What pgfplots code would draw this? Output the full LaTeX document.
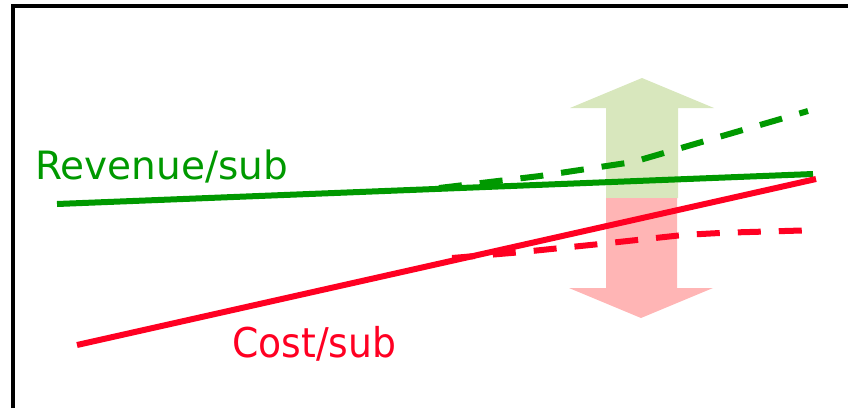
\documentclass[border=0pt]{standalone}
\usepackage{pgfplots}
\pgfplotsset{compat=1.18}
\usepackage{fontspec}
\setmainfont{DejaVu Sans}
\definecolor{cgreen}{HTML}{009900}
\definecolor{cred}{HTML}{FF0022}
\definecolor{agreen}{HTML}{D8E7BD}
\definecolor{ared}{HTML}{FFB5B5}
\begin{document}
\begin{tikzpicture}
\begin{axis}[
  scale only axis, width=848pt, height=408pt,
  xmin=0, xmax=848, ymin=0, ymax=408, y dir=reverse,
  hide axis, clip=false]
% arrows (area shapes)
\addplot[draw=none, fill=agreen] coordinates {(606,198) (606,108) (570,108) (642,78) (714,108) (678,108) (678,198)} -- cycle;
\addplot[draw=none, fill=ared] coordinates {(606,198) (606,288) (569,288) (641,318) (713,288) (677,288) (677,198)} -- cycle;
% frame
\addplot[black, line width=4pt] coordinates {(13,408) (13,6) (848,6)};
% revenue
\addplot[cgreen, line width=6pt] coordinates {(57,204) (813,174)};
\addplot[cgreen, line width=6pt, dash pattern=on 23pt off 18pt] coordinates {(439,188) (540,176) (633,162) (808,111)};
% cost
\addplot[cred, line width=6pt] coordinates {(77,345) (816,179)};
\addplot[cred, line width=6pt, dash pattern=on 23pt off 18pt] coordinates {(452,258) (517,252.5) (600,244) (683,235) (725,232.7) (809,230.3)};
\node[anchor=base west, inner sep=0pt, text=cgreen, font=\fontsize{39}{39}\selectfont] at (axis cs:35,179) {Revenue/sub};
\node[anchor=base west, inner sep=0pt, text=cred, font=\fontsize{41}{41}\selectfont] at (axis cs:232,357) {\scalebox{0.92}[1]{Cost/sub}};
\end{axis}
\pgfresetboundingbox
\path (0,0) rectangle (848pt,408pt);
\end{tikzpicture}
\end{document}
